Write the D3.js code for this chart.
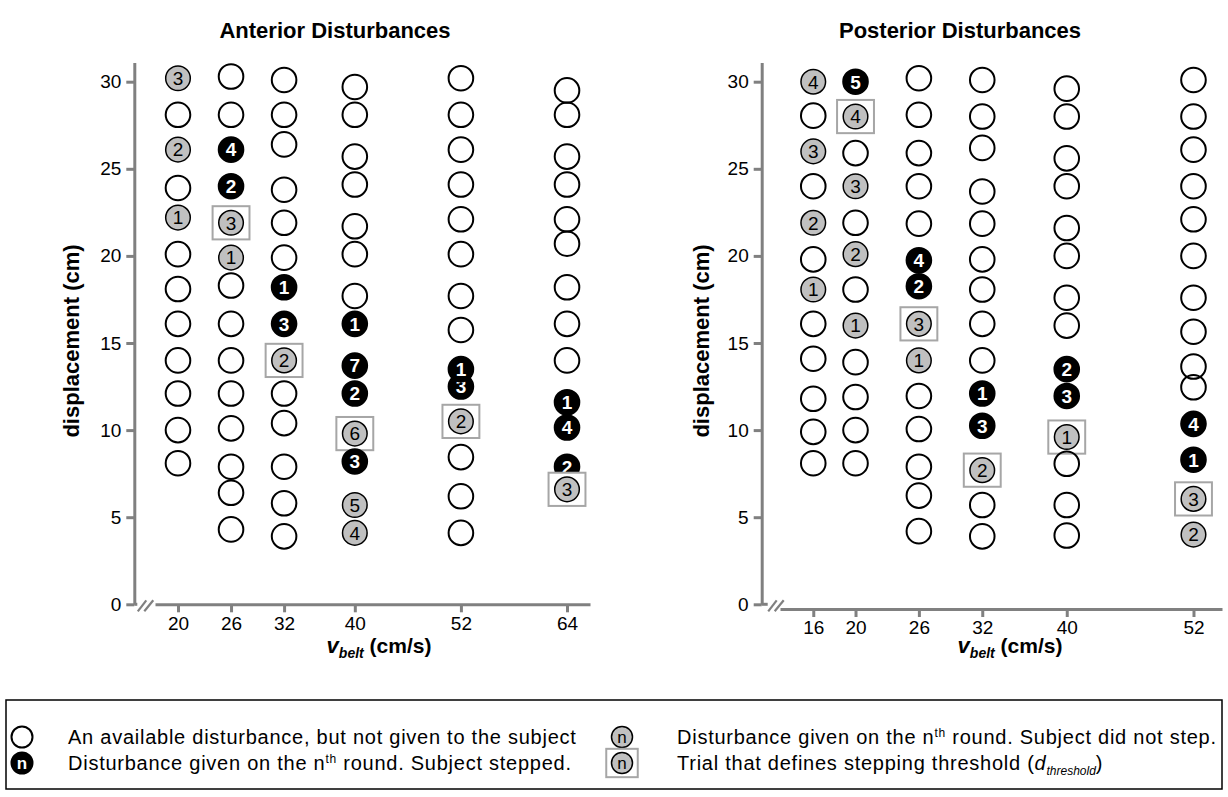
<!DOCTYPE html>
<html>
<head>
<meta charset="utf-8">
<script src="https://cdn.jsdelivr.net/npm/d3@7"></script>
<style>
  body { margin: 0; background: #fff; }
  svg { display: block; }
  text { font-family: Arial, "Liberation Sans", sans-serif; }
</style>
</head>
<body>
<svg id="chart" width="1228" height="797"></svg>
<script>
// ---- Data ---------------------------------------------------------------
// Kind codes: o = available, not given; s = given, subject stepped;
//             n = given, no step; t = trial defining the stepping threshold
const yTicks = [0, 5, 10, 15, 20, 25, 30];

// Anterior disturbances
const antBelt = [20, 26, 32, 40, 52, 64];
const antDisp = [
  [30.2, 28.1, 26.1, 23.9, 22.2, 20.1, 18.1, 16.1, 14.0, 12.1, 10.0, 8.1],
  [30.3, 28.1, 26.1, 24.0, 21.9, 19.9, 18.3, 16.1, 14.0, 12.1, 10.1, 7.9, 6.4, 4.3],
  [30.1, 28.1, 26.4, 23.8, 21.9, 19.9, 18.2, 16.1, 14.0, 12.1, 10.4, 7.9, 5.8, 3.9],
  [29.7, 28.1, 25.7, 24.1, 21.7, 20.1, 17.7, 16.1, 13.7, 12.1, 9.8, 8.2, 5.7, 4.1],
  [30.2, 28.1, 26.1, 24.1, 22.1, 20.1, 17.7, 15.75, 12.5, 13.5, 10.5, 8.45, 6.2, 4.1],
  [29.5, 28.1, 25.7, 24.1, 22.1, 20.7, 18.2, 16.1, 14.0, 11.6, 10.15, 7.9, 6.6]
];
const antKind = [
  "nononooooooo",
  "oosstnoooooooo",
  "oooooosstooooo",
  "ooooooossstsnn",
  "oooooooosstooo",
  "ooooooooossst"
];
const antRound = [
  [3, 0, 2, 0, 1, 0, 0, 0, 0, 0, 0, 0],
  [0, 0, 4, 2, 3, 1, 0, 0, 0, 0, 0, 0, 0, 0],
  [0, 0, 0, 0, 0, 0, 1, 3, 2, 0, 0, 0, 0, 0],
  [0, 0, 0, 0, 0, 0, 0, 1, 7, 2, 6, 3, 5, 4],
  [0, 0, 0, 0, 0, 0, 0, 0, 3, 1, 2, 0, 0, 0],
  [0, 0, 0, 0, 0, 0, 0, 0, 0, 1, 4, 2, 3]
];

// Posterior disturbances
const postBelt = [16, 20, 26, 32, 40, 52];
const postDisp = [
  [30.0, 28.05, 26.0, 24.0, 21.9, 19.8, 18.07, 16.1, 14.1, 11.8, 9.9, 8.1],
  [30.0, 28.0, 25.9, 24.0, 21.9, 20.1, 18.07, 16.0, 13.9, 11.9, 10.0, 8.1],
  [30.2, 28.1, 25.9, 24.0, 21.85, 19.75, 18.26, 16.1, 14.0, 11.96, 10.06, 7.9, 6.24, 4.2],
  [30.1, 28.0, 26.2, 23.7, 21.85, 19.8, 18.07, 16.1, 14.0, 12.1, 10.25, 7.7, 5.7, 3.9],
  [29.6, 28.0, 25.6, 24.0, 21.6, 20.0, 17.6, 16.0, 13.5, 11.96, 9.6, 8.07, 5.7, 3.95],
  [30.1, 28.0, 26.1, 24.0, 22.1, 20.0, 17.6, 15.65, 13.65, 12.46, 10.36, 8.3, 6.05, 4.0]
];
const postKind = [
  "nonononooooo",
  "stonononoooo",
  "ooooosstnooooo",
  "ooooooooosstoo",
  "oooooooosstooo",
  "oooooooooosstn"
];
const postRound = [
  [4, 0, 3, 0, 2, 0, 1, 0, 0, 0, 0, 0],
  [5, 4, 0, 3, 0, 2, 0, 1, 0, 0, 0, 0],
  [0, 0, 0, 0, 0, 4, 2, 3, 1, 0, 0, 0, 0, 0],
  [0, 0, 0, 0, 0, 0, 0, 0, 0, 1, 3, 2, 0, 0],
  [0, 0, 0, 0, 0, 0, 0, 0, 2, 3, 1, 0, 0, 0],
  [0, 0, 0, 0, 0, 0, 0, 0, 0, 0, 4, 1, 3, 2]
];

// ---- Styling constants --------------------------------------------------
const AXIS = "#808080";
const GRAY = "#c0c0c0";
const BOX = "#a6a6a6";
const R = 12.3;

const svg = d3.select("#chart");

function drawMarker(g, cx, cy, kind, label, r, fs) {
  if (kind === "o") {
    g.append("circle").attr("cx", cx).attr("cy", cy).attr("r", r)
      .attr("fill", "none").attr("stroke", "#000").attr("stroke-width", 2);
    return;
  }
  if (kind === "t") {
    g.append("rect")
      .attr("x", cx - r * 1.5).attr("y", cy - r * 1.35)
      .attr("width", r * 3).attr("height", r * 2.7)
      .attr("fill", "#fff").attr("stroke", BOX).attr("stroke-width", 2);
  }
  const black = kind === "s";
  g.append("circle").attr("cx", cx).attr("cy", cy).attr("r", r)
    .attr("fill", black ? "#000" : GRAY)
    .attr("stroke", "#000").attr("stroke-width", black ? 2 : 1.5);
  g.append("text").attr("x", cx).attr("y", cy).attr("dy", "0.36em")
    .attr("text-anchor", "middle")
    .attr("font-size", fs)
    .attr("font-weight", black ? "bold" : "normal")
    .attr("fill", black ? "#fff" : "#000")
    .text(label);
}

function panel(cfg) {
  const g = svg.append("g");

  const y = d3.scaleLinear().domain([0, 30]).range([604.3, 81.7]);
  const yAxisScale = d3.scaleLinear().domain([0, 31.1]).range([y(0), y(31.1)]);
  const x = d3.scaleLinear().domain(cfg.xDomain).range(cfg.xRange);

  // y axis
  const ya = g.append("g").attr("transform", `translate(${cfg.axisX},0)`)
    .call(d3.axisLeft(yAxisScale).tickValues(yTicks).tickSize(8).tickSizeOuter(0).tickPadding(5));
  // x axis
  const xa = g.append("g").attr("transform", `translate(0,${cfg.xAxisY})`)
    .call(d3.axisBottom(x).tickValues(cfg.belt).tickSize(8).tickSizeOuter(0).tickPadding(4));

  [ya, xa].forEach(a => {
    a.select(".domain").attr("stroke", AXIS).attr("stroke-width", 3);
    a.selectAll(".tick line").attr("stroke", AXIS).attr("stroke-width", 3);
    a.selectAll(".tick text").attr("fill", "#000").attr("font-size", 19)
      .attr("font-family", "Arial, 'Liberation Sans', sans-serif");
  });

  // axis break between the two axes
  const y0 = y(0);
  const bx = cfg.axisX;
  const bk = g.append("g").attr("stroke", AXIS).attr("stroke-width", 2.2).attr("fill", "none");
  bk.append("path").attr("d", `M${bx},${y0}H${bx + cfg.stub}`).attr("stroke-width", 3);
  bk.append("path").attr("d", `M${bx + cfg.stub + 0.5},${y0 + 7}L${bx + cfg.stub + 9},${y0 - 4}`);
  bk.append("path").attr("d", `M${bx + cfg.stub + 7},${y0 + 7}L${bx + cfg.stub + 16},${y0 - 4}`);

  // title
  g.append("text").attr("x", cfg.titleX).attr("y", 38)
    .attr("text-anchor", "middle").attr("font-size", 22).attr("font-weight", "bold")
    .text(cfg.title);

  // y label
  g.append("text")
    .attr("transform", `translate(${cfg.yLabelX},341) rotate(-90)`)
    .attr("text-anchor", "middle").attr("font-size", 22).attr("font-weight", "bold")
    .text("displacement (cm)");

  // x label
  const xl = g.append("text").attr("x", cfg.xLabelX).attr("y", 653)
    .attr("text-anchor", "middle").attr("font-weight", "bold");
  xl.append("tspan").attr("font-size", 22).attr("font-style", "italic").text("v");
  xl.append("tspan").attr("font-size", 14).attr("font-style", "italic").attr("dy", 5).text("belt");
  xl.append("tspan").attr("font-size", 21).attr("dy", -5).text(" (cm/s)");

  // disturbance markers
  const mg = g.append("g");
  cfg.belt.forEach((v, i) => {
    cfg.disp[i].forEach((d, j) => {
      const k = cfg.kind[i][j];
      drawMarker(mg, x(v), y(d), k, cfg.round[i][j], R, 19);
    });
  });
}

panel({
  title: "Anterior Disturbances", titleX: 335,
  belt: antBelt, disp: antDisp, kind: antKind, round: antRound,
  axisX: 134.3, xAxisY: 604.3, stub: 3,
  xDomain: [17.4, 66.6], xRange: [155, 590],
  yLabelX: 79, xLabelX: 379
});

panel({
  title: "Posterior Disturbances", titleX: 960,
  belt: postBelt, disp: postDisp, kind: postKind, round: postRound,
  axisX: 761.7, xAxisY: 609, stub: 6,
  xDomain: [12.85, 54.7], xRange: [780, 1222],
  yLabelX: 709, xLabelX: 1010
});

// ---- Legend -------------------------------------------------------------
const lg = svg.append("g");
lg.append("rect").attr("x", 6).attr("y", 700).attr("width", 1216).attr("height", 89)
  .attr("fill", "none").attr("stroke", "#000").attr("stroke-width", 1.5);

const legendItems = [
  { kind: "o", cx: 22, cy: 737, tx: 68, parts: [["An available disturbance, but not given to the subject"]] },
  { kind: "s", cx: 22, cy: 763, tx: 68, parts: [["Disturbance given on the n"], ["th", "sup"], [" round. Subject stepped."]] },
  { kind: "n", cx: 622, cy: 737, tx: 677, parts: [["Disturbance given on the n"], ["th", "sup"], [" round. Subject did not step."]] },
  { kind: "t", cx: 622, cy: 763, tx: 677, parts: [["Trial that defines stepping threshold ("], ["d", "it"], ["threshold", "sub"], [")", "back"]] }
];

legendItems.forEach(it => {
  drawMarker(lg, it.cx, it.cy, it.kind, "n", 10.5, 17);
  const t = lg.append("text").attr("x", it.tx).attr("y", it.cy + 7)
    .attr("font-size", 20).attr("letter-spacing", 0.75);
  it.parts.forEach(([s, mode]) => {
    const sp = t.append("tspan").text(s);
    if (mode === "sup") sp.attr("font-size", 12).attr("dy", -7);
    else if (mode === "it") sp.attr("font-style", "italic");
    else if (mode === "sub") sp.attr("font-size", 12).attr("font-style", "italic").attr("dy", 5).attr("letter-spacing", 0);
    else if (mode === "back") sp.attr("dy", -5);
    if (s.startsWith(" round")) sp.attr("dy", 7);
  });
});
</script>
</body>
</html>
